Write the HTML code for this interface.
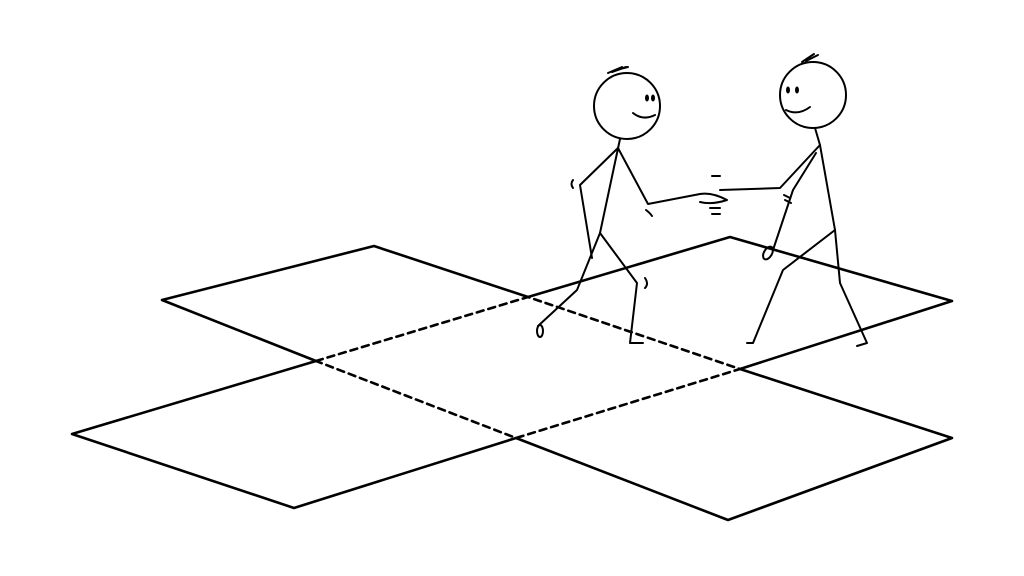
<!DOCTYPE html>
<html><head><meta charset="utf-8"><style>html,body{margin:0;padding:0;background:#fff}svg{display:block}</style></head>
<body>
<svg width="1024" height="576" viewBox="0 0 1024 576" xmlns="http://www.w3.org/2000/svg">
<rect width="1024" height="576" fill="#fff"/>
<g fill="none" stroke="#000" stroke-width="2.6" stroke-linejoin="round" stroke-linecap="round">
<polyline points="316,361 162,300 374,246 528,297 730,237 952,301 740,369 952,438 728,520 516,438 294,508 72,434 316,361"/>
<g stroke-dasharray="7,5">
<polygon points="316,361 528,297 740,369 516,438"/>
</g>
</g>
<g fill="none" stroke="#000" stroke-width="2" stroke-linejoin="round" stroke-linecap="round">
<circle cx="627" cy="106" r="33"/>
<path d="M608,73 l14,-6 M612,72 l14,-5 M616,70 l12,-3"/>
<path d="M633,113 q10,8 22,2"/>
<path d="M620,139 L600,233"/>
<path d="M618,148 L580,185 L592,258"/>
<path d="M618,148 L648,204 L700,194 Q712,192 727,200 Q712,205 700,202"/>
<path d="M600,233 L577,290 L538,326"/>
<ellipse cx="540" cy="331" rx="3" ry="6"/>
<path d="M600,233 L637,283 L630,343 L643,343"/>
<path d="M573,180 q-3,4 0,8 M646,210 q4,3 6,6 M645,278 q4,6 0,10 M712,176 l8,0 M710,208 l10,0 M712,214 l8,0"/>
<circle cx="813" cy="95" r="33"/>
<path d="M802,62 l12,-8 M806,61 l12,-6"/>
<path d="M786,110 q12,6 24,-3"/>
<path d="M815,128 L820,145 L835,230"/>
<path d="M820,145 L780,188 L720,190"/>
<path d="M816,153 L793,190 L773,250"/>
<ellipse cx="768" cy="253" rx="4" ry="7" transform="rotate(30 768 253)"/>
<path d="M835,230 L783,270 L753,343 L747,343"/>
<path d="M835,230 L840,283 L867,343 L857,346"/>
<path d="M784,195 l6,3 M785,200 l6,3"/>
</g>
<g fill="#000">
<ellipse cx="647" cy="98" rx="2" ry="3.5"/><ellipse cx="653" cy="98" rx="2" ry="3.5"/>
<ellipse cx="788" cy="90" rx="2" ry="3.5"/><ellipse cx="797" cy="90" rx="2" ry="3.5"/>
</g>
</svg>
</body></html>
